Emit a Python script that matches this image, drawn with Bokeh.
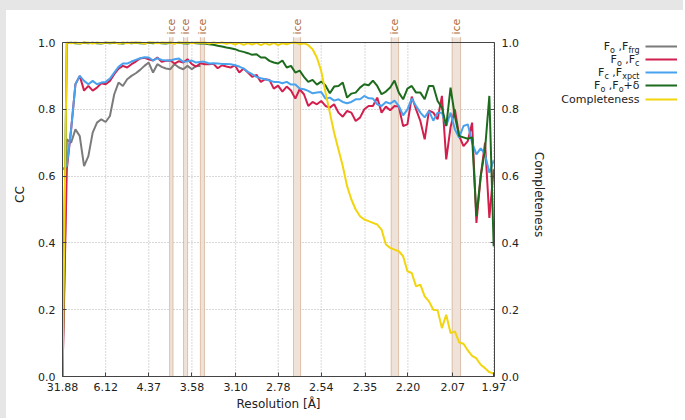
import numpy as np
from bokeh.plotting import figure
from bokeh.layouts import row, column
from bokeh.models import Range1d, LinearAxis, FixedTicker, NumeralTickFormatter, Div
from bokeh.core.properties import value
from bokeh.embed import file_html
from bokeh.resources import INLINE

# ---------------- data ----------------
x_tick_labels = ["31.88", "6.12", "4.37", "3.58", "3.10", "2.78", "2.54", "2.35", "2.20", "2.07", "1.97"]
y_ticks = [0.0, 0.2, 0.4, 0.6, 0.8, 1.0]
d_max, d_min = 31.88, 1.97
n_bins = 101

completeness = [
    0.0,
    1.0, 0.998, 1.0, 0.997, 1.0, 0.999, 0.997, 1.0, 0.998, 1.0,
    0.999, 1.0, 0.997, 1.0, 0.998, 1.0, 0.999, 1.0, 0.997, 1.0,
    1.0, 0.998, 1.0, 0.999, 1.0, 0.997, 1.0, 0.999, 1.0, 0.998,
    1.0, 0.999, 1.0, 0.997, 1.0, 0.998, 1.0, 0.996, 0.999, 0.994,
    0.999, 0.993, 0.998, 0.994, 0.999, 0.992, 0.998, 0.993, 0.999, 0.992,
    0.998, 0.995, 0.999, 1.0, 0.995, 0.998, 0.992,
    0.98, 0.955, 0.915, 0.85, 0.79, 0.73, 0.68, 0.63, 0.57, 0.53,
    0.50, 0.48, 0.47, 0.465, 0.46, 0.455, 0.44, 0.395, 0.385, 0.38,
    0.375, 0.36, 0.315, 0.31, 0.27, 0.275, 0.24, 0.225, 0.2, 0.198,
    0.145, 0.185, 0.13, 0.135, 0.102, 0.098, 0.078, 0.062, 0.054, 0.035,
    0.025, 0.013, 0.009,
]

cc_fo_ffrg = [
    0.0, 0.71, 0.70, 0.74, 0.72, 0.63, 0.66, 0.73, 0.76, 0.77,
    0.762, 0.78, 0.845, 0.88, 0.87, 0.89, 0.90, 0.908, 0.918, 0.93,
    0.94, 0.91, 0.935, 0.927, 0.922, 0.92, 0.935, 0.925, 0.92, 0.93,
    0.92, 0.93, 0.93,
]

cc_fo_fc = [
    0.0, 0.62, 0.74, 0.875, 0.90,
    0.856, 0.87, 0.856, 0.865, 0.878, 0.875,
    0.885, 0.905, 0.922, 0.93, 0.925, 0.935, 0.943, 0.952, 0.954, 0.95,
    0.946, 0.955, 0.942, 0.945, 0.946, 0.937, 0.944, 0.94, 0.95, 0.935,
    0.928, 0.938, 0.935, 0.935, 0.936, 0.923, 0.932, 0.928, 0.925, 0.932,
    0.91, 0.922, 0.91, 0.897, 0.903, 0.882, 0.89, 0.888, 0.862, 0.871,
    0.853, 0.868, 0.856, 0.832, 0.86, 0.845, 0.81, 0.822, 0.815, 0.825,
    0.81, 0.805, 0.815, 0.79, 0.778, 0.795, 0.79, 0.765, 0.775, 0.8,
    0.81, 0.81, 0.835, 0.79, 0.808, 0.797, 0.81, 0.808, 0.75, 0.755,
    0.838, 0.80, 0.765, 0.71, 0.796, 0.79, 0.77, 0.84, 0.65, 0.746,
    0.80, 0.72, 0.69, 0.705, 0.76, 0.46, 0.60, 0.70, 0.475, 0.62,
]

cc_fc_fxpct = [
    0.62, 0.63, 0.74, 0.875, 0.90,
    0.885, 0.875, 0.885, 0.875, 0.88, 0.882,
    0.892, 0.91, 0.927, 0.937, 0.937, 0.943, 0.948, 0.953, 0.956, 0.955,
    0.946, 0.953, 0.948, 0.946, 0.946, 0.95, 0.952, 0.942, 0.944, 0.946,
    0.94, 0.942, 0.942, 0.937, 0.938, 0.937, 0.936, 0.936, 0.935, 0.932,
    0.928, 0.922, 0.912, 0.905, 0.897, 0.893, 0.89, 0.886, 0.882, 0.882,
    0.878, 0.882, 0.874, 0.874, 0.862, 0.86, 0.855, 0.848, 0.85, 0.852,
    0.832, 0.835, 0.826, 0.83, 0.822, 0.818, 0.822, 0.83, 0.83, 0.84,
    0.833, 0.832, 0.815, 0.81, 0.822, 0.817, 0.826, 0.81, 0.782, 0.80,
    0.832, 0.81, 0.79, 0.776, 0.795, 0.766, 0.79, 0.79, 0.75, 0.79,
    0.74, 0.715, 0.75, 0.755, 0.70, 0.665, 0.683, 0.665, 0.61, 0.647,
]

cc_fo_fodelta = [
    0.0,
    0.998, 0.999, 0.998, 0.997, 0.999, 0.998, 0.999, 0.998, 0.997, 0.999,
    0.998, 0.999, 0.998, 0.997, 0.999, 0.998, 0.999, 0.998, 0.997, 0.999,
    0.998, 0.999, 0.998, 0.997, 0.999, 0.998, 0.999, 0.998, 0.997, 0.999,
    0.998, 0.997, 0.997,
    0.995, 0.993, 0.99, 0.988, 0.985, 0.983, 0.98,
    0.975, 0.972, 0.968, 0.963, 0.965,
    0.955, 0.955, 0.945, 0.94, 0.937,
    0.946, 0.925, 0.93, 0.91, 0.916,
    0.897, 0.882, 0.888, 0.874, 0.883,
    0.871, 0.848, 0.868, 0.87, 0.88,
    0.835, 0.847, 0.85, 0.865, 0.875,
    0.872, 0.886, 0.87, 0.845, 0.853,
    0.865, 0.886, 0.85, 0.83, 0.862,
    0.87, 0.85, 0.85, 0.83, 0.87,
    0.87, 0.825, 0.805, 0.75, 0.865,
    0.78, 0.72, 0.716, 0.712, 0.716,
    0.48, 0.60, 0.68, 0.84, 0.39,
]

# ice-ring resolution ranges (low d, high d) in Angstrom
ice_rings = [(3.93, 3.87), (3.70, 3.64), (3.47, 3.42), (2.687, 2.647), (2.255, 2.23), (2.072, 2.05)]

series_colors = ["#7b7b7b", "#d21f4e", "#48a2ee", "#1d6b1d", "#f2d50c"]
series_values = [cc_fo_ffrg, cc_fo_fc, cc_fc_fxpct, cc_fo_fodelta, completeness]

# legend texts: (text, is_subscript, gap_before_in_em)
legend_rows = [
    [("F", 0, 0), ("o", 1, 0), (",F", 0, 0.318), ("frg", 1, 0)],
    [("F", 0, 0), ("o", 1, 0), (",F", 0, 0.318), ("c", 1, 0)],
    [("F", 0, 0), ("c", 1, 0), (",F", 0, 0.318), ("xpct", 1, 0)],
    [("F", 0, 0), ("o", 1, 0), (",F", 0, 0.318), ("o", 1, 0), ("+δ", 0, 0)],
    [("Completeness", 0, 0)],
]

# ---------------- main figure ----------------
FONT = "DejaVu Sans"
PAGE_GRAY = "#e6e6e6"
s_lo = 1.0 / d_max ** 2
s_hi = 1.0 / d_min ** 2
s_bins = np.linspace(s_lo, s_hi, n_bins)
frame_w, frame_h = 432, 364
px = 1.0 / 334.0           # one pixel in CC units
y_top = 1.0 + 30 * px      # room above the plot box for the "ice" labels
x_end = s_hi + 0.0005

fig = figure(frame_width=frame_w, frame_height=frame_h, output_backend="svg", toolbar_location=None,
             x_range=Range1d(s_lo, x_end), y_range=Range1d(0, y_top),
             min_border_left=56, min_border_right=58, min_border_top=2, min_border_bottom=42,
             background_fill_color="white", border_fill_color="white")
fig.outline_line_color = None

x_tick_vals = [1.0 / float(t) ** 2 for t in x_tick_labels]
fig.xaxis.ticker = FixedTicker(ticks=x_tick_vals)
fig.xaxis.major_label_overrides = {v: t for v, t in zip(x_tick_vals, x_tick_labels)}
fig.yaxis.ticker = FixedTicker(ticks=y_ticks)
fig.yaxis.formatter = NumeralTickFormatter(format="0.0")
fig.yaxis.bounds = (0, 1)
fig.xaxis.axis_label = "Resolution [Å]"
fig.yaxis.axis_label = "CC"

fig.extra_y_ranges = {"comp": Range1d(0, y_top)}
rax = LinearAxis(y_range_name="comp", axis_label="Completeness", bounds=(0, 1),
                 ticker=FixedTicker(ticks=y_ticks), formatter=NumeralTickFormatter(format="0.0"))
fig.add_layout(rax, "right")

for ax in [fig.xaxis[0], fig.yaxis[0], rax]:
    ax.major_label_text_font = FONT
    ax.major_label_text_font_size = "11px"
    ax.major_label_text_color = "#222222"
    ax.axis_label_text_font = FONT
    ax.axis_label_text_font_size = "12px"
    ax.axis_label_text_font_style = "normal"
    ax.axis_label_text_color = "#222222"
    ax.axis_line_color = "#444444"
    ax.major_tick_line_color = "#444444"
    ax.major_tick_in = 4
    ax.major_tick_out = 0
    ax.minor_tick_line_color = None
fig.xaxis.major_label_standoff = 6
fig.xaxis.axis_label_standoff = 3
fig.yaxis.major_label_standoff = 7
fig.yaxis.axis_label_standoff = 8
rax.major_label_standoff = 7
rax.axis_label_standoff = 10

fig.xgrid.visible = False
fig.ygrid.ticker = FixedTicker(ticks=y_ticks)
fig.ygrid.grid_line_color = "#b0b0b0"
fig.ygrid.grid_line_dash = "1 2"

# vertical dotted grid, limited to the plot box
fig.segment(x0=x_tick_vals, y0=[0] * len(x_tick_vals), x1=x_tick_vals, y1=[1] * len(x_tick_vals),
            line_color="#b0b0b0", line_dash="1 2", line_width=1)

# ice rings
ice_lo = [1.0 / a ** 2 for a, b in ice_rings]
ice_hi = [1.0 / b ** 2 for a, b in ice_rings]
fig.quad(left=ice_lo, right=ice_hi, bottom=0, top=1 + 5 * px, fill_color="#efe2d9", line_color=None)
edges = ice_lo + ice_hi
fig.segment(x0=edges, y0=[0] * len(edges), x1=edges, y1=[1 + 5 * px] * len(edges),
            line_color="#c8906a", line_dash="1 1", line_width=1)
fig.text(x=[0.5 * (l + h) for l, h in zip(ice_lo, ice_hi)], y=[1 + 8 * px] * len(ice_rings),
         text=["ice"] * len(ice_rings), angle=np.pi / 2, text_align="left", text_baseline="middle",
         text_font=value(FONT), text_font_size="11px", text_color="#b06a3a")

# data lines
for vals, col in zip(series_values, series_colors):
    fig.line(s_bins[:len(vals)], vals, line_color=col, line_width=2)

# top edge of the plot box
fig.line([s_lo, x_end], [1, 1], line_color="#444444", line_width=1)

# ---------------- legend panel ----------------
leg_w, leg_h = 125, 408
leg = figure(frame_width=leg_w, frame_height=leg_h, output_backend="svg", toolbar_location=None,
             x_range=Range1d(0, leg_w), y_range=Range1d(leg_h, 0),
             x_axis_location=None, y_axis_location=None,
             min_border_left=0, min_border_right=0, min_border_top=0, min_border_bottom=0,
             background_fill_color="white", border_fill_color="white")
leg.outline_line_color = None
leg.xgrid.visible = False
leg.ygrid.visible = False

W = {"F": .575, "o": .612, " ": .318, ",": .318, "f": .352, "r": .411, "g": .635, "c": .550,
     "x": .592, "p": .635, "t": .392, "+": .838, "δ": .612}
text_right = 87
row_y = [34, 47, 60, 73, 87]
for pieces, ry, col in zip(legend_rows, row_y, series_colors):
    cur = text_right
    for txt, sub, gap in reversed(pieces):
        size = 8 if sub else 11
        leg.text(x=[cur], y=[ry + (4 if sub else 0)], text=[txt], text_align="right",
                 text_baseline="middle", text_font=value(FONT), text_font_size=f"{size}px",
                 text_color="#222222")
        cur -= sum(W.get(ch, 0.6) for ch in txt) * size + gap * size
    leg.line([93, 125], [ry, ry], line_color=col, line_width=2)

top_strip = Div(width=683, height=10, margin=(0, 0, 0, 0), styles={"background-color": PAGE_GRAY})
left_strip = Div(width=6, height=408, margin=(0, 0, 0, 0), styles={"background-color": PAGE_GRAY})
p = column(top_strip, row(left_strip, fig, leg, spacing=0), spacing=0)
open("out.html", "w").write(file_html(p, INLINE))
